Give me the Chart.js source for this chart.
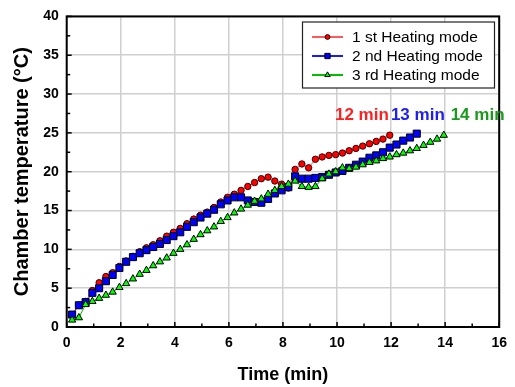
<!DOCTYPE html>
<html><head><meta charset="utf-8">
<script src="https://cdn.jsdelivr.net/npm/chart.js@4.4.1/dist/chart.umd.min.js"></script>
<style>html,body{margin:0;padding:0;background:#fff}#wrap{width:515px;height:387px}</style>
</head><body><div id="wrap"><canvas id="c" width="515" height="387"></canvas></div>
<script>
// ---- data ----
const timeMin = [0.2,0.45,0.7,0.95,1.2,1.45,1.7,1.95,2.2,2.45,2.7,2.95,3.2,3.45,3.7,3.95,4.2,4.45,4.7,4.95,5.2,5.45,5.7,5.95,6.2,6.45,6.7,6.95,7.2,7.45,7.7,7.95,8.2,8.45,8.7,8.95,9.2,9.45,9.7,9.95,10.2,10.45,10.7,10.95,11.2,11.45,11.7,11.95,12.2,12.45,12.7,12.95,13.2,13.45,13.7,13.95];
const mode1Temp = [1.6,2.8,3.3,4.7,5.7,6.5,7.0,7.8,8.5,9.1,9.7,10.2,10.6,11.1,11.7,12.2,12.7,13.3,13.9,14.4,14.8,15.4,16.1,16.7,17.1,17.6,18.1,18.6,19.1,19.3,18.8,18.4,17.9,20.3,21.0,20.5,21.6,21.9,22.1,22.2,22.4,22.7,23.0,23.3,23.6,23.9,24.2,24.7];
const mode2Temp = [1.6,2.8,3.2,4.4,5.0,5.9,6.7,7.6,8.4,9.0,9.5,9.9,10.3,10.7,11.2,11.7,12.2,12.9,13.5,14.1,14.6,15.1,15.8,16.3,16.7,16.7,16.3,16.1,16.0,16.5,17.2,17.6,18.0,19.4,19.1,19.1,19.2,19.3,19.6,19.9,20.1,20.5,20.9,21.3,21.8,22.1,22.5,23.1,23.5,24.0,24.4,24.9];
const mode3Temp = [0.9,1.2,2.9,3.3,3.7,4.1,4.5,5.1,5.6,6.2,6.8,7.3,7.9,8.4,8.9,9.5,10.0,10.6,11.3,11.9,12.4,12.9,13.6,14.1,14.7,15.2,15.7,16.2,16.5,17.1,17.6,18.1,18.4,18.8,18.1,18.0,18.1,19.1,19.7,20.0,20.5,20.4,20.6,20.9,21.2,21.4,21.7,21.9,22.2,22.4,22.7,23.0,23.4,23.8,24.2,24.7];
const seriesNames = ['1 st Heating mode','2 nd Heating mode','3 rd Heating mode'];
const endLabels = ['12 min','13 min','14 min'];
const xTickValues = [0,2,4,6,8,10,12,14,16];
const yTickValues = [0,5,10,15,20,25,30,35,40];

const FONT = "'Liberation Sans', Arial, sans-serif";
function pts(arr){ return arr.map((v,i)=>({x:timeMin[i], y:v})); }

const styles = [
  {line:'#ff5a5a', fill:'#ff0000', edge:'#3a0000', shape:'circle', r:3.2, text:'#ff2020'},
  {line:'#1a1aff', fill:'#0000ff', edge:'#000000', shape:'rect', r:5, text:'#2020ee'},
  {line:'#00c000', fill:'#00ff00', edge:'#000000', shape:'triangle', r:4.2, text:'#1a9a1a'}
];
const seriesData = [mode1Temp, mode2Temp, mode3Temp];

const datasets = seriesData.map((arr,i)=>({
  label: seriesNames[i],
  data: pts(arr),
  borderColor: styles[i].line,
  borderWidth: 1,
  backgroundColor: styles[i].fill,
  pointStyle: styles[i].shape,
  pointRadius: styles[i].r,
  pointBackgroundColor: styles[i].fill,
  pointBorderColor: styles[i].edge,
  pointBorderWidth: 1,
  tension: 0,
  fill: false,
  order: 3 - i
}));

const decor = {
  id: 'decor',
  afterDraw(chart){
    const ctx = chart.ctx, ca = chart.chartArea;
    const xs = chart.scales.x, ys = chart.scales.y;
    ctx.save();
    // inward ticks
    ctx.strokeStyle = '#000'; ctx.lineWidth = 1.5;
    for (let v = 0; v <= 40.001; v += 2.5) {
      const y = ys.getPixelForValue(v);
      const len = (Math.abs(v % 5) < 0.01) ? 5 : 3.5;
      ctx.beginPath(); ctx.moveTo(ca.left, y); ctx.lineTo(ca.left + len, y); ctx.stroke();
    }
    for (let v = 0; v <= 16.001; v += 1) {
      const x = xs.getPixelForValue(v);
      const len = (v % 2 === 0) ? 5 : 3.5;
      ctx.beginPath(); ctx.moveTo(x, ca.bottom); ctx.lineTo(x, ca.bottom - len); ctx.stroke();
    }
    // frame
    ctx.lineWidth = 2;
    ctx.strokeRect(ca.left, ca.top, ca.right - ca.left, ca.bottom - ca.top);

    // end labels
    ctx.font = "bold 17px " + FONT;
    ctx.textAlign = 'center'; ctx.textBaseline = 'middle';
    const labelX = [10.92, 12.99, 15.2];
    endLabels.forEach((t,i)=>{
      ctx.fillStyle = styles[i].text;
      ctx.fillText(t, xs.getPixelForValue(labelX[i]), ys.getPixelForValue(27.2));
    });

    // legend box
    const bx = 302.5, by = 22, bw = 192, bh = 66;
    ctx.fillStyle = '#fff'; ctx.fillRect(bx, by, bw, bh);
    ctx.strokeStyle = '#222'; ctx.lineWidth = 1.2; ctx.strokeRect(bx, by, bw, bh);
    ctx.font = "15.5px " + FONT; ctx.textAlign = 'left'; ctx.textBaseline = 'middle';
    seriesNames.forEach((name,i)=>{
      const y = 37 + i*19;
      ctx.strokeStyle = styles[i].line; ctx.lineWidth = 2;
      ctx.beginPath(); ctx.moveTo(312, y); ctx.lineTo(343, y); ctx.stroke();
      ctx.fillStyle = styles[i].fill; ctx.strokeStyle = styles[i].edge; ctx.lineWidth = 1;
      Chart.helpers.drawPoint(ctx, {pointStyle: styles[i].shape, radius: styles[i].r*0.75, rotation:0, borderWidth:1}, 327.5, y);
      ctx.fillStyle = '#000';
      ctx.fillText(name, 352, y + 0.5);
    });
    ctx.restore();
  }
};

new Chart(document.getElementById('c'), {
  type: 'line',
  data: { datasets },
  options: {
    responsive: false, devicePixelRatio: 1, animation: false,
    layout: { padding: { top: 15, right: 13.3, left: 0, bottom: 0 } },
    plugins: { legend: { display: false }, tooltip: { enabled: false } },
    scales: {
      x: {
        type: 'linear', min: 0, max: 16,
        afterFit(s){ s.height = 60; },
        afterBuildTicks(s){ s.ticks = xTickValues.map(v=>({value:v})); },
        ticks: { padding: 8, color: '#000', font: { family: FONT, size: 14, weight: 'bold' } },
        grid: { color: '#cfcfcf', lineWidth: 1.5, drawTicks: false },
        border: { display: false },
        title: { display: true, text: 'Time (min)', color: '#000',
          font: { family: FONT, size: 18, weight: 'bold', lineHeight: 1 }, padding: { top: 0, bottom: 3 } }
      },
      y: {
        type: 'linear', min: 0, max: 40,
        afterFit(s){ s.width = 66.7; },
        afterBuildTicks(s){ s.ticks = yTickValues.map(v=>({value:v})); },
        ticks: { padding: 8, color: '#000', font: { family: FONT, size: 14, weight: 'bold' } },
        grid: { color: '#cfcfcf', lineWidth: 1.5, drawTicks: false },
        border: { display: false },
        title: { display: true, text: 'Chamber temperature (°C)', color: '#000',
          font: { family: FONT, size: 20, weight: 'bold', lineHeight: 1 }, padding: { top: 12.5, bottom: 0 } }
      }
    }
  },
  plugins: [decor]
});
</script></body></html>
